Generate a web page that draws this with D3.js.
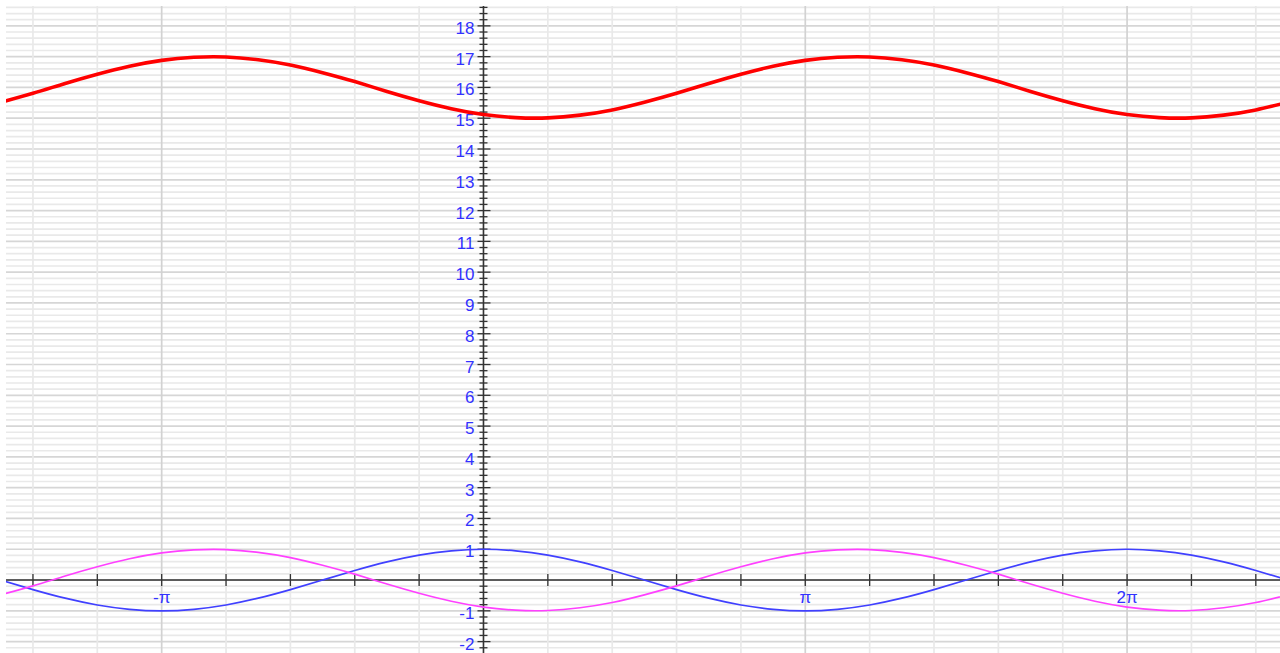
<!DOCTYPE html>
<html>
<head>
<meta charset="utf-8">
<script src="https://cdn.jsdelivr.net/npm/d3@7"></script>
<style>
  html, body { margin: 0; padding: 0; background: #fff; }
  svg { display: block; }
</style>
</head>
<body>
<div id="chart"></div>
<script>
// Abtastpunkte in Zehnteln von pi (x = k * pi / 10)
var sampleTenthsPi = [-15, -14, -13, -12, -11, -10, -9, -8, -7, -6, -5, -4, -3, -2, -1,
  0, 1, 2, 3, 4, 5, 6, 7, 8, 9, 10, 11, 12, 13, 14, 15, 16, 17, 18, 19, 20,
  21, 22, 23, 24, 25];

// blaue Kurve
var blueValues = [0, -0.31, -0.59, -0.81, -0.95, -1, -0.95, -0.81, -0.59, -0.31,
  0, 0.31, 0.59, 0.81, 0.95, 1, 0.95, 0.81, 0.59, 0.31,
  0, -0.31, -0.59, -0.81, -0.95, -1, -0.95, -0.81, -0.59, -0.31,
  0, 0.31, 0.59, 0.81, 0.95, 1, 0.95, 0.81, 0.59, 0.31, 0];

// magenta Kurve
var magentaValues = [-0.48, -0.19, 0.13, 0.43, 0.69, 0.88, 0.98, 0.99, 0.90, 0.73,
  0.48, 0.19, -0.13, -0.43, -0.69, -0.88, -0.98, -0.99, -0.90, -0.73,
  -0.48, -0.19, 0.13, 0.43, 0.69, 0.88, 0.98, 0.99, 0.90, 0.73,
  0.48, 0.19, -0.13, -0.43, -0.69, -0.88, -0.98, -0.99, -0.90, -0.73, -0.48];

// rote Kurve
var redValues = [15.52, 15.81, 16.13, 16.43, 16.69, 16.88, 16.98, 16.99, 16.90, 16.73,
  16.48, 16.19, 15.87, 15.57, 15.31, 15.12, 15.02, 15.01, 15.10, 15.27,
  15.52, 15.81, 16.13, 16.43, 16.69, 16.88, 16.98, 16.99, 16.90, 16.73,
  16.48, 16.19, 15.87, 15.57, 15.31, 15.12, 15.02, 15.01, 15.10, 15.27, 15.52];

// Achsenbeschriftungen
var yTickLabels = [-2, -1, 1, 2, 3, 4, 5, 6, 7, 8, 9, 10, 11, 12, 13, 14, 15, 16, 17, 18];
var xPiMultiples = [-1, 1, 2];
var xPiLabels = ["-\u03c0", "\u03c0", "2\u03c0"];

var width = 1280, height = 653, plotLeft = 6, plotTop = 6;

var x = d3.scaleLinear().domain([-4.72, 7.776]).range([0, width]);
var y = d3.scaleLinear().domain([-2.37, 18.84]).range([height, 0]);

var svg = d3.select("#chart").append("svg")
  .attr("width", width)
  .attr("height", height);

svg.append("clipPath").attr("id", "plot")
  .append("rect")
  .attr("x", plotLeft).attr("y", plotTop)
  .attr("width", width - plotLeft).attr("height", height - plotTop);

var plot = svg.append("g").attr("clip-path", "url(#plot)");

// Gitter: waagrecht alle 0.2, senkrecht alle pi/5
var yGrid = d3.range(-12, 95).map(function(i) { return i / 5; });
var xGrid = d3.range(-8, 14);

plot.selectAll(".hgrid").data(yGrid).enter().append("line")
  .attr("x1", plotLeft).attr("x2", width)
  .attr("y1", function(d) { return y(d); })
  .attr("y2", function(d) { return y(d); })
  .style("stroke", function(d) { return Math.abs(d - Math.round(d)) < 1e-6 ? "#d6d6d6" : "#e9e9e9"; })
  .style("stroke-width", 1.7);

plot.selectAll(".vgrid").data(xGrid).enter().append("line")
  .attr("x1", function(k) { return x(k * Math.PI / 5); })
  .attr("x2", function(k) { return x(k * Math.PI / 5); })
  .attr("y1", plotTop).attr("y2", height)
  .style("stroke", function(k) { return k % 5 === 0 ? "#d2d2d2" : "#e9e9e9"; })
  .style("stroke-width", 1.7);

// Achsen
var x0 = x(0), y0 = y(0);
var axisColor = "#333";

plot.append("line")
  .attr("x1", plotLeft).attr("x2", width)
  .attr("y1", y0).attr("y2", y0)
  .style("stroke", axisColor).style("stroke-width", 1.5);

plot.append("line")
  .attr("x1", x0).attr("x2", x0)
  .attr("y1", plotTop).attr("y2", height)
  .style("stroke", axisColor).style("stroke-width", 1.5);

// y-Striche: kurz alle 0.2, lang bei ganzen Zahlen
plot.selectAll(".ytick").data(yGrid.filter(function(d) { return Math.abs(d) > 1e-6; })).enter().append("line")
  .attr("x1", function(d) { return Math.abs(d - Math.round(d)) < 1e-6 ? x0 - 6 : x0 - 4; })
  .attr("x2", function(d) { return Math.abs(d - Math.round(d)) < 1e-6 ? x0 + 7 : x0 + 4; })
  .attr("y1", function(d) { return y(d); })
  .attr("y2", function(d) { return y(d); })
  .style("stroke", axisColor).style("stroke-width", 1.3);

// x-Striche alle pi/5
plot.selectAll(".xtick").data(xGrid.filter(function(k) { return k !== 0; })).enter().append("line")
  .attr("x1", function(k) { return x(k * Math.PI / 5); })
  .attr("x2", function(k) { return x(k * Math.PI / 5); })
  .attr("y1", y0 - 6).attr("y2", y0 + 6)
  .style("stroke", axisColor).style("stroke-width", 1.3);

// Beschriftungen
var labelColor = "#3232ff";
var labelFont = "'Liberation Sans', Arial, sans-serif";

plot.selectAll(".ylabel").data(yTickLabels).enter().append("text")
  .attr("x", x0 - 9)
  .attr("y", function(d) { return y(d) + 8; })
  .attr("text-anchor", "end")
  .style("font-family", labelFont)
  .style("font-size", "17px")
  .style("fill", labelColor)
  .text(function(d) { return d; });

plot.selectAll(".xlabel").data(xPiMultiples).enter().append("text")
  .attr("x", function(k) { return x(k * Math.PI); })
  .attr("y", y0 + 23)
  .attr("text-anchor", "middle")
  .style("font-family", labelFont)
  .style("font-size", "17px")
  .style("fill", labelColor)
  .text(function(k, i) { return xPiLabels[i]; });

// Kurven
var drawCurve = function(values, color, strokeWidth) {
  var line = d3.line()
    .x(function(d, i) { return x(sampleTenthsPi[i] * Math.PI / 10); })
    .y(function(d) { return y(d); })
    .curve(d3.curveNatural);

  plot.append("path")
    .datum(values)
    .attr("d", line)
    .style("fill", "none")
    .style("stroke", color)
    .style("stroke-width", strokeWidth);
};

drawCurve(blueValues, "#4040ff", 1.7);
drawCurve(magentaValues, "#ff40ff", 1.7);
drawCurve(redValues, "#ff0000", 3.6);
</script>
</body>
</html>
